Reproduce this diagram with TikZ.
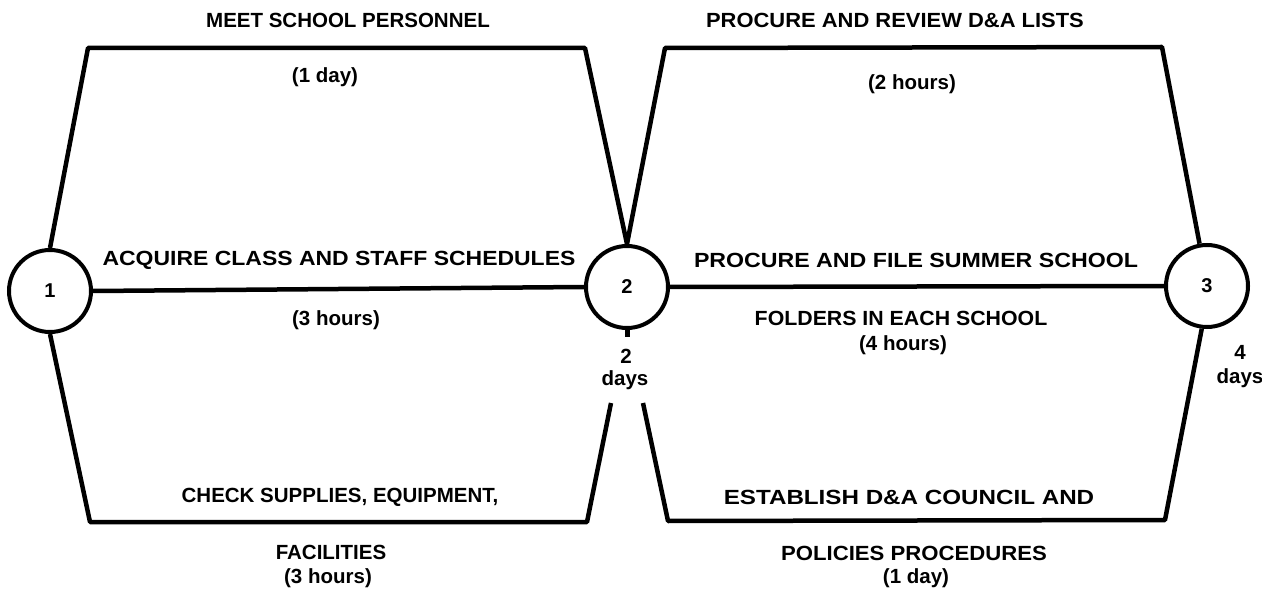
\documentclass[tikz,border=0pt]{standalone}
\usepackage{fontspec}
\setmainfont{Liberation Sans}
\newcommand{\wide}[2]{\scalebox{#1}[1]{#2}}
\begin{document}
\begin{tikzpicture}[x=1pt,y=-1pt,
  circ/.style={draw,circle,line width=4pt,minimum size=82pt,inner sep=0pt,font=\fontsize{20}{22}\selectfont\bfseries},
  path/.style={line width=4.5pt,line join=round},
  lbl/.style={inner sep=0pt,font=\fontsize{20.5}{23}\selectfont\bfseries}]
\useasboundingbox (0,0) rectangle (1262,596);
% events
\node[circ] (n1) at (50,291) {1};
\node[circ] (n2) at (627,287) {2};
\node[circ] (n3) at (1207,286) {3};
% corner coordinates
\coordinate (a1) at (88,48);
\coordinate (a2) at (585,48);
\coordinate (b1) at (665,48);
\coordinate (b2) at (1162,47);
\coordinate (c1) at (90,522);
\coordinate (c2) at (587,522);
\coordinate (c3) at (611,403);
\coordinate (d1) at (643,403);
\coordinate (d2) at (668,521);
\coordinate (d3) at (1165,520);
\coordinate (stub) at (627,337);
% activities
\draw[path] (n1.north) -- (a1) -- (a2) -- (n2.north);
\draw[path] (n1.east) -- (n2.west);
\draw[path] (n1.south) -- (c1) -- (c2) -- (c3);
\draw[path] (n2.north) -- (b1) -- (b2) -- (n3.100);
\draw[path] (n2.east) -- (n3.west);
\draw[path] (d1) -- (d2) -- (d3) -- (n3.263);
\draw[path,line width=5pt] (n2.south) -- (stub);
% labels
\node[lbl] (t1) at (348,20) {MEET SCHOOL PERSONNEL};
\node[lbl] (t2) at (325,77) {(1 day)};
\node[lbl] (t3) at (339,260) {\wide{1.12}{ACQUIRE CLASS AND STAFF SCHEDULES}};
\node[lbl] (t4) at (336,320) {(3 hours)};
\node[lbl] (t5) at (340,497) {CHECK SUPPLIES, EQUIPMENT,};
\node[lbl] (t6) at (331,552) {FACILITIES};
\node[lbl] (t7) at (328,578) {(3 hours)};
\node[lbl] (t8) at (895,20) {\wide{1.07}{PROCURE AND REVIEW D\&A LISTS}};
\node[lbl] (t9) at (912,84) {(2 hours)};
\node[lbl] (t10) at (916,260) {\wide{1.13}{PROCURE AND FILE SUMMER SCHOOL}};
\node[lbl] (t11) at (901,318) {\wide{1.04}{FOLDERS IN EACH SCHOOL}};
\node[lbl] (t12) at (903,345) {(4 hours)};
\node[lbl] (t13) at (909,497) {\wide{1.18}{ESTABLISH D\&A COUNCIL AND}};
\node[lbl] (t14) at (914,553) {\wide{1.08}{POLICIES PROCEDURES}};
\node[lbl] (t15) at (916,578) {(1 day)};
\node[lbl] (t16) at (626,356) {2};
\node[lbl] (t17) at (625,380) {days};
\node[lbl] (t18) at (1240,352) {4};
\node[lbl] (t19) at (1240,378) {days};
\end{tikzpicture}
\end{document}
